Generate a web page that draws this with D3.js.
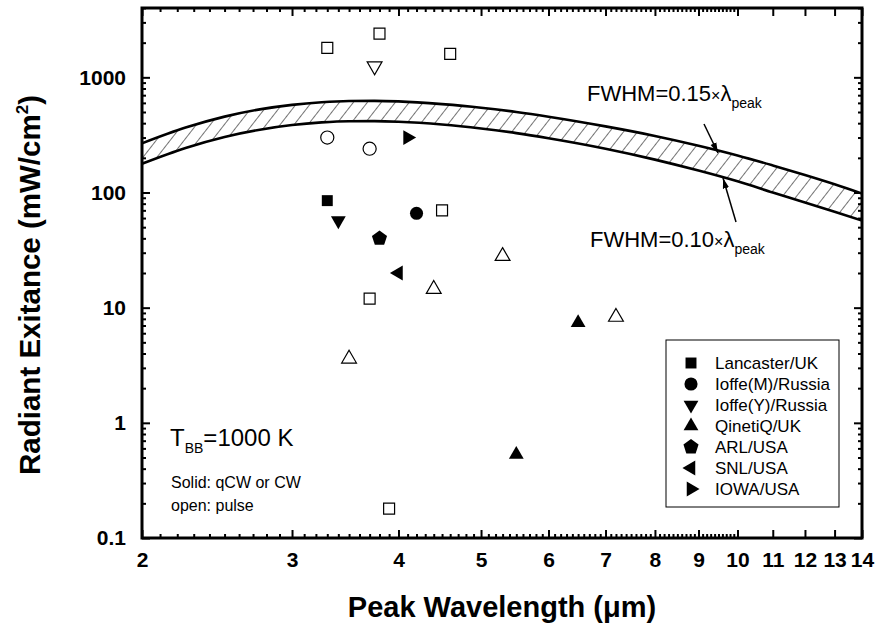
<!DOCTYPE html>
<html>
<head>
<meta charset="utf-8">
<script src="https://cdn.jsdelivr.net/npm/d3@7"></script>
<style>
  body { margin: 0; background: #fff; }
  svg text { font-family: "Liberation Sans", Arial, sans-serif; fill: #000; }
</style>
</head>
<body>
<svg id="chart" width="878" height="627"></svg>
<script>
// Axis ticks
const xTicks = [2, 3, 4, 5, 6, 7, 8, 9, 10, 11, 12, 13, 14];
const yTicks = [0.1, 1, 10, 100, 1000];

// Blackbody band (T = 1000 K)
const bandWavelength = [2, 2.25, 2.5, 2.75, 3, 3.25, 3.5, 3.75, 4, 4.5, 5, 5.5, 6, 7, 8, 9, 10, 11, 12, 13, 14];
const bandUpper = [267, 366, 456, 527, 577, 608, 623, 625, 618, 585, 545, 500, 455, 375, 310, 255, 210, 172, 142, 118, 98];
const bandLower = [178, 244, 304, 351, 385, 406, 416, 417, 412, 390, 360, 328, 296, 240, 193, 155, 125, 100, 82, 68, 57];

// Device points [wavelength um, exitance mW/cm2]
const lancasterSolid = [[3.3, 85]];
const ioffeMSolid = [[4.2, 66]];
const ioffeYSolid = [[3.4, 57]];
const qinetiqSolid = [[6.5, 7.4], [5.5, 0.53]];
const arlSolid = [[3.8, 40]];
const snlSolid = [[4.0, 20]];
const iowaSolid = [[4.1, 300]];
const lancasterOpen = [[3.3, 1800], [3.8, 2400], [4.6, 1600], [4.5, 70], [3.7, 12], [3.9, 0.18]];
const ioffeMOpen = [[3.3, 300], [3.7, 240]];
const ioffeYOpen = [[3.75, 1250]];
const qinetiqOpen = [[4.4, 14.5], [5.3, 28], [3.5, 3.6], [7.2, 8.3]];

const legendNames = ['Lancaster/UK', 'Ioffe(M)/Russia', 'Ioffe(Y)/Russia', 'QinetiQ/UK', 'ARL/USA', 'SNL/USA', 'IOWA/USA'];

const margin = { left: 142, right: 16, top: 8, bottom: 89 };
const width = 878, height = 627;
const svg = d3.select('#chart');

const x = d3.scaleLog().domain([2, 14]).range([margin.left, width - margin.right]);
const y = d3.scaleLog().domain([0.1, 4000]).range([height - margin.bottom, margin.top]);

// pentagon symbol
const symbolPentagon = {
  draw(ctx, size) {
    const r = Math.sqrt(size / 2.378);
    for (let i = 0; i < 5; i++) {
      const a = -Math.PI / 2 + i * 2 * Math.PI / 5;
      const px = r * Math.cos(a), py = r * Math.sin(a);
      if (i === 0) ctx.moveTo(px, py); else ctx.lineTo(px, py);
    }
    ctx.closePath();
  }
};

const shapes = {
  square: { type: d3.symbolSquare, size: 120, rot: 0 },
  circle: { type: d3.symbolCircle, size: 135, rot: 0 },
  down: { type: d3.symbolTriangle, size: 95, rot: 180 },
  up: { type: d3.symbolTriangle, size: 95, rot: 0 },
  pentagon: { type: symbolPentagon, size: 150, rot: 0 },
  left: { type: d3.symbolTriangle, size: 95, rot: -90 },
  right: { type: d3.symbolTriangle, size: 95, rot: 90 }
};
const legendShapes = ['square', 'circle', 'down', 'up', 'pentagon', 'left', 'right'];

// hatch pattern
const defs = svg.append('defs');
const pat = defs.append('pattern')
  .attr('id', 'hatch')
  .attr('patternUnits', 'userSpaceOnUse')
  .attr('width', 11).attr('height', 20)
  .attr('patternTransform', 'rotate(38)');
pat.append('line')
  .attr('x1', 0).attr('y1', 0).attr('x2', 0).attr('y2', 20)
  .attr('stroke', '#000').attr('stroke-width', 1.1);

defs.append('clipPath').attr('id', 'clip')
  .append('rect')
  .attr('x', margin.left).attr('y', margin.top)
  .attr('width', width - margin.left - margin.right)
  .attr('height', height - margin.top - margin.bottom);

defs.append('marker')
  .attr('id', 'arrow')
  .attr('viewBox', '0 0 10 10')
  .attr('refX', 10).attr('refY', 5)
  .attr('markerWidth', 7).attr('markerHeight', 7)
  .attr('orient', 'auto')
  .append('path')
  .attr('d', 'M0,2 L10,5 L0,8 Z')
  .attr('fill', '#000');

// band
const band = bandWavelength.map((w, i) => ({ w, hi: bandUpper[i], lo: bandLower[i] }));
const plot = svg.append('g').attr('clip-path', 'url(#clip)');
plot.append('path')
  .datum(band)
  .attr('d', d3.area().x(d => x(d.w)).y0(d => y(d.lo)).y1(d => y(d.hi)).curve(d3.curveMonotoneX))
  .attr('fill', 'url(#hatch)');
plot.append('path')
  .datum(band)
  .attr('d', d3.line().x(d => x(d.w)).y(d => y(d.hi)).curve(d3.curveMonotoneX))
  .attr('fill', 'none').attr('stroke', '#000').attr('stroke-width', 2.6);
plot.append('path')
  .datum(band)
  .attr('d', d3.line().x(d => x(d.w)).y(d => y(d.lo)).curve(d3.curveMonotoneX))
  .attr('fill', 'none').attr('stroke', '#000').attr('stroke-width', 2.6);

// markers
function drawPoints(data, shape, solid) {
  const s = shapes[shape];
  svg.append('g').selectAll('path')
    .data(data)
    .enter().append('path')
    .attr('d', d3.symbol().type(s.type).size(s.size))
    .attr('transform', d => `translate(${x(d[0])},${y(d[1])}) rotate(${s.rot})`)
    .attr('fill', solid ? '#000' : '#fff')
    .attr('stroke', '#000')
    .attr('stroke-width', solid ? 0 : 1.2);
}
drawPoints(lancasterOpen, 'square', false);
drawPoints(ioffeMOpen, 'circle', false);
drawPoints(ioffeYOpen, 'down', false);
drawPoints(qinetiqOpen, 'up', false);
drawPoints(lancasterSolid, 'square', true);
drawPoints(ioffeMSolid, 'circle', true);
drawPoints(ioffeYSolid, 'down', true);
drawPoints(qinetiqSolid, 'up', true);
drawPoints(arlSolid, 'pentagon', true);
drawPoints(snlSolid, 'left', true);
drawPoints(iowaSolid, 'right', true);

// axes
const plotH = height - margin.top - margin.bottom;
const plotW = width - margin.left - margin.right;
const xMinor = [];
for (let v = 2.1; v < 10; v += 0.1) {
  if (Math.abs(v - Math.round(v)) > 0.01) xMinor.push(+v.toFixed(1));
}
const yMinor = [];
[0.1, 1, 10, 100, 1000].forEach(d => { for (let k = 2; k <= 9; k++) if (d * k <= 4000) yMinor.push(d * k); });

function styleAxis(g) {
  g.select('.domain').remove();
  g.selectAll('line').attr('stroke', '#000').attr('stroke-width', 2);
  g.selectAll('text')
    .style('font-family', '"Liberation Sans", Arial, sans-serif')
    .style('font-weight', 'bold').style('font-size', '21px');
}

svg.append('g').attr('transform', `translate(0,${height - margin.bottom})`)
  .call(d3.axisBottom(x).tickValues(xTicks).tickSize(-8).tickPadding(14).tickFormat(d3.format('d')))
  .call(styleAxis);
svg.append('g').attr('transform', `translate(0,${height - margin.bottom})`)
  .call(d3.axisBottom(x).tickValues(xMinor).tickSize(-4).tickFormat(''))
  .call(styleAxis);
svg.append('g').attr('transform', `translate(0,${margin.top})`)
  .call(d3.axisTop(x).tickValues(xTicks).tickSize(-8).tickFormat(''))
  .call(styleAxis);
svg.append('g').attr('transform', `translate(0,${margin.top})`)
  .call(d3.axisTop(x).tickValues(xMinor).tickSize(-4).tickFormat(''))
  .call(styleAxis);

svg.append('g').attr('transform', `translate(${margin.left},0)`)
  .call(d3.axisLeft(y).tickValues(yTicks).tickSize(-8).tickPadding(16).tickFormat(d => d < 1 ? '0.1' : d3.format('d')(d)))
  .call(styleAxis);
svg.append('g').attr('transform', `translate(${margin.left},0)`)
  .call(d3.axisLeft(y).tickValues(yMinor).tickSize(-4).tickFormat(''))
  .call(styleAxis);
svg.append('g').attr('transform', `translate(${width - margin.right},0)`)
  .call(d3.axisRight(y).tickValues(yTicks).tickSize(-8).tickFormat(''))
  .call(styleAxis);
svg.append('g').attr('transform', `translate(${width - margin.right},0)`)
  .call(d3.axisRight(y).tickValues(yMinor).tickSize(-4).tickFormat(''))
  .call(styleAxis);

svg.append('rect')
  .attr('x', margin.left).attr('y', margin.top)
  .attr('width', plotW).attr('height', plotH)
  .attr('fill', 'none').attr('stroke', '#000').attr('stroke-width', 3);

// axis titles
svg.append('text')
  .attr('x', margin.left + plotW / 2).attr('y', 617)
  .attr('text-anchor', 'middle')
  .style('font-size', '29px').style('font-weight', 'bold')
  .text('Peak Wavelength (μm)');

const yt = svg.append('text')
  .attr('transform', `translate(40,${margin.top + plotH / 2 + 12}) rotate(-90)`)
  .attr('text-anchor', 'middle')
  .style('font-size', '29.5px').style('font-weight', 'bold');
yt.append('tspan').text('Radiant Exitance (mW/cm');
yt.append('tspan').attr('dy', -12).style('font-size', '17px').text('2');
yt.append('tspan').attr('dy', 12).text(')');

// band annotations
function fwhmLabel(tx, ty, val) {
  const t = svg.append('text').attr('x', tx).attr('y', ty).style('font-size', '22px');
  t.append('tspan').text('FWHM=' + val);
  t.append('tspan').style('font-size', '16px').text('×');
  t.append('tspan').text('λ');
  t.append('tspan').attr('dy', 7).style('font-size', '14px').text('peak');
}
fwhmLabel(587, 101, '0.15');
fwhmLabel(590, 247, '0.10');

svg.append('line').attr('x1', 704).attr('y1', 124).attr('x2', 718).attr('y2', 153)
  .attr('stroke', '#000').attr('stroke-width', 1.5).attr('marker-end', 'url(#arrow)');
svg.append('line').attr('x1', 736).attr('y1', 222).attr('x2', 723).attr('y2', 178)
  .attr('stroke', '#000').attr('stroke-width', 1.5).attr('marker-end', 'url(#arrow)');

// notes
const tbb = svg.append('text').attr('x', 170).attr('y', 446).style('font-size', '24px');
tbb.append('tspan').text('T');
tbb.append('tspan').attr('dy', 7).style('font-size', '14px').text('BB');
tbb.append('tspan').attr('dy', -7).text('=1000 K');
svg.append('text').attr('x', 171).attr('y', 488).style('font-size', '16px').text('Solid: qCW or CW');
svg.append('text').attr('x', 171).attr('y', 511).style('font-size', '16px').text('open: pulse');

// legend
const lg = svg.append('g');
lg.append('rect')
  .attr('x', 666).attr('y', 340).attr('width', 173).attr('height', 167)
  .attr('fill', '#fff').attr('stroke', '#000').attr('stroke-width', 1);
legendNames.forEach((name, i) => {
  const s = shapes[legendShapes[i]];
  const cy = 363 + i * 21;
  lg.append('path')
    .attr('d', d3.symbol().type(s.type).size(s.size))
    .attr('transform', `translate(691,${cy}) rotate(${s.rot})`)
    .attr('fill', '#000');
  lg.append('text').attr('x', 715).attr('y', cy + 6).style('font-size', '17px').text(name);
});
</script>
</body>
</html>
